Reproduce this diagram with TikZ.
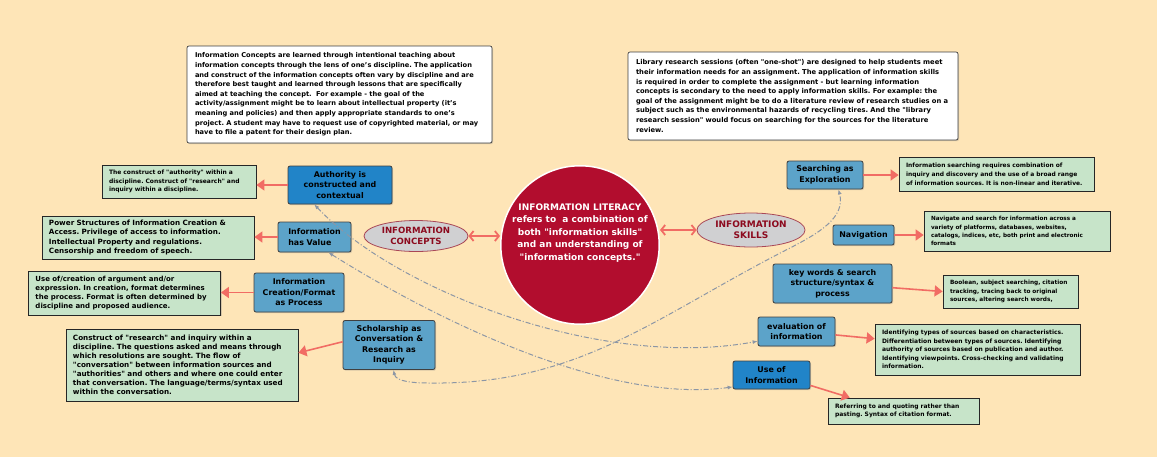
\documentclass[tikz,border=0pt]{standalone}
\usepackage{fontspec}
\setmainfont{DejaVu Sans}
\usetikzlibrary{arrows.meta,shapes.geometric,shadows}
\definecolor{bgcol}{RGB}{254,229,183}
\definecolor{hubred}{RGB}{178,13,46}
\definecolor{steel}{RGB}{92,163,201}
\definecolor{brightblue}{RGB}{33,132,200}
\definecolor{mint}{RGB}{199,228,201}
\definecolor{salmon}{RGB}{241,108,100}
\definecolor{realmgray}{RGB}{208,208,210}
\definecolor{realmred}{RGB}{140,10,30}
\definecolor{linkgray}{RGB}{140,150,165}
\newcommand{\dq}{\textquotedbl}
\frenchspacing
\hyphenpenalty=10000
\begin{document}
\begin{tikzpicture}[scale=0.35146]
\tikzstyle{note}=[draw=black!75, fill=white, rounded corners=2pt, line width=0.7pt, inner xsep=8pt, inner ysep=0pt, align=left, drop shadow={shadow xshift=1pt, shadow yshift=-1.2pt, opacity=0.3}]
\tikzstyle{infobox}=[draw=black!85, fill=mint, line width=0.8pt, inner xsep=7pt, inner ysep=0pt, align=left, drop shadow={shadow xshift=1pt, shadow yshift=-1.2pt, opacity=0.3}]
\tikzstyle{infosmall}=[infobox, font=\bfseries\fontsize{6}{8.4}\selectfont]
\tikzstyle{infolarge}=[infobox, font=\bfseries\fontsize{7.2}{9.1}\selectfont]
\tikzstyle{topic}=[draw=black!75, fill=steel, rounded corners=2pt, line width=0.8pt, inner sep=0pt, align=center, font=\bfseries\fontsize{7.9}{10.5}\selectfont, drop shadow={shadow xshift=1pt, shadow yshift=-1.2pt, opacity=0.3}]
\tikzstyle{topicbright}=[topic, fill=brightblue]
\tikzstyle{hub}=[circle, fill=hubred, draw=white, line width=1.5pt, minimum size=156pt, inner sep=0pt, text=white, align=center, font=\bfseries\fontsize{9}{12.5}\selectfont]
\tikzstyle{realm}=[ellipse, fill=realmgray, draw=realmred!75, line width=0.8pt, inner sep=0pt, text=realmred, align=center]
\tikzstyle{link}=[draw=salmon, line width=1.6pt, -{Triangle[length=8pt,width=11pt]}]
\tikzstyle{twolink}=[draw=salmon, line width=1.8pt, {Straight Barb[length=4pt,width=10pt]}-{Straight Barb[length=4pt,width=10pt]}]
\tikzstyle{crosslink}=[draw=linkgray, line width=1pt, dash pattern=on 5pt off 2pt on 1pt off 2pt, {Latex[length=5pt,width=4pt]}-{Latex[length=5pt,width=4pt]}]
\useasboundingbox (0,0) rectangle (115.7,-45.7);
\fill [bgcol] (0,0) rectangle (115.7,-45.7);

\node [note, text width=289pt, minimum height=97pt, font=\bfseries\fontsize{6.65}{9.6}\selectfont] (noteL) at (33.95,-9.45) {Information Concepts are learned through intentional teaching about\\information concepts through the lens of one's discipline. The application\\and construct of the information concepts often vary by discipline and are\\therefore best taught and learned through lessons that are specifically\\aimed at teaching the concept.\ \ For example - the goal of the\\activity/assignment might be to learn about intellectual property (it's\\meaning and policies) and then apply appropriate standards to one's\\project. A student may have to request use of copyrighted material, or may\\have to file a patent for their design plan.};
\node [note, text width=314pt, minimum height=88pt, font=\bfseries\fontsize{6.75}{9.6}\selectfont] (noteR) at (79.3,-9.6) {Library research sessions (often \dq one-shot\dq) are designed to help students meet\\their information needs for an assignment. The application of information skills\\is required in order to complete the assignment - but learning information\\concepts is secondary to the need to apply information skills. For example: the\\goal of the assignment might be to do a literature review of research studies on a\\subject such as the environmental hazards of recycling tires. And the \dq library\\research session\dq{} would focus on searching for the sources for the literature\\review.};

\node [hub] (hub) at (58,-24.5) {INFORMATION LITERACY\\refers to\ \ a combination of\\both \dq information skills\dq\\and an understanding of\\\dq information concepts.\dq\\[14pt]\mbox{}};
\node [realm, minimum width=104pt, minimum height=31pt, font=\bfseries\fontsize{8.6}{10.7}\selectfont] (concepts) at (41.6,-23.6) {INFORMATION\\CONCEPTS};
\node [realm, minimum width=108pt, minimum height=34pt, font=\bfseries\fontsize{9}{11.3}\selectfont] (skills) at (75.1,-23) {INFORMATION\\SKILLS};

\node [topicbright, minimum width=104pt, minimum height=38pt] (auth) at (34,-18.5) {Authority is\\constructed and\\contextual};
\node [topic, align=left, minimum width=73pt, minimum height=30pt] (value) at (31.45,-23.7) {Information\\has Value};
\node [topic, minimum width=90pt, minimum height=39pt] (creat) at (29.9,-29.25) {Information\\Creation/Format\\as Process};
\node [topic, minimum width=92pt, minimum height=49pt] (schol) at (38.9,-34.5) {Scholarship as\\Conversation \&\\Research as\\Inquiry};

\node [infosmall, text width=140pt, minimum height=33pt] (grAuth) at (17.9,-18.15) {The construct of \dq authority\dq{} within a\\discipline. Construct of \dq research\dq{} and\\inquiry within a discipline.};
\node [infolarge, text width=198pt, minimum height=43pt] (grValue) at (14.8,-23.75) {Power Structures of Information Creation \&\\Access. Privilege of access to information.\\Intellectual Property and regulations.\\Censorship and freedom of speech.};
\node [infolarge, text width=178pt, minimum height=44pt, font=\bfseries\fontsize{7}{9.1}\selectfont] (grCreat) at (12.45,-29.3) {Use of/creation of argument and/or\\expression. In creation, format determines\\the process. Format is often determined by\\discipline and proposed audience.};
\node [infolarge, text width=218pt, minimum height=72pt] (grCon) at (18.2,-36.5) {Construct of \dq research\dq{} and inquiry within a\\discipline. The questions asked and means through\\which resolutions are sought. The flow of\\\dq conversation\dq{} between information sources and\\\dq authorities\dq{} and others and where one could enter\\that conversation. The language/terms/syntax used\\within the conversation.};

\node [topic, minimum width=76pt, minimum height=28pt] (search) at (82.5,-17.5) {Searching as\\Exploration};
\node [topic, minimum width=61pt, minimum height=20pt] (nav) at (86.35,-23.5) {Navigation};
\node [topic, minimum width=119pt, minimum height=39pt] (kw) at (83.25,-28.35) {key words \& search\\structure/syntax \&\\process};
\node [topic, minimum width=77pt, minimum height=29pt] (eval) at (79.65,-33.15) {evaluation of\\information};
\node [topicbright, minimum width=77pt, minimum height=28pt] (useInfo) at (77.15,-37.5) {Use of\\Information};

\node [infosmall, text width=181pt, minimum height=34pt, font=\bfseries\fontsize{5.95}{8.8}\selectfont] (grSearch) at (99.65,-17.4) {Information searching requires combination of\\inquiry and discovery and the use of a broad range\\of information sources. It is non-linear and iterative.};
\node [infosmall, text width=172pt, minimum height=40pt, font=\bfseries\fontsize{5.7}{8.2}\selectfont] (grNav) at (101.7,-23.1) {Navigate and search for information across a\\variety of platforms, databases, websites,\\catalogs, indices, etc, both print and electronic\\formats};
\node [infosmall, text width=121pt, minimum height=33pt, font=\bfseries\fontsize{5.8}{8.4}\selectfont] (grKw) at (101.05,-29.15) {Boolean, subject searching, citation\\tracking, tracing back to original\\sources, altering search words,};
\node [infosmall, text width=191pt, minimum height=51pt] (grEval) at (97.75,-34.95) {Identifying types of sources based on characteristics.\\Differentiation between types of sources. Identifying\\authority of sources based on publication and author.\\Identifying viewpoints. Cross-checking and validating\\information.};
\node [infosmall, text width=137pt, minimum height=26pt] (grUse) at (90.35,-41.1) {Referring to and quoting rather than\\pasting. Syntax of citation format.};

\draw [twolink] (concepts.east) -- (concepts.east -| hub.west);
\draw [twolink] (skills.west -| hub.east) -- (skills.west);

\draw [link] (auth.west) -- (auth.west -| grAuth.east);
\draw [link] (value.west) -- (value.west -| grValue.east);
\draw [link] (creat.west) -- (creat.west -| grCreat.east);
\draw [link] (schol.176) -- (grCon.6);
\draw [link] (search.east) -- (search.east -| grSearch.west);
\draw [link] (nav.east) -- (nav.east -| grNav.west);
\draw [link] (kw.-4) -- (grKw.west);
\draw [link] (eval.-5) -- (grEval.174);
\draw [link] (useInfo.-15) -- (grUse.166);

\draw [crosslink] (auth.-143) .. controls (39.5,-29) and (60,-37) .. (eval.-166);
\draw [crosslink] (value.-48) .. controls (42,-31) and (60,-40.5) .. (useInfo.-163);
\draw [crosslink] (schol.-80) .. controls (39.6,-38.2) and (41.5,-38.3) .. (43,-38.3) .. controls (58,-38.5) and (65.6,-31.6) .. (79,-24.8) .. controls (81.7,-23.4) and (84.6,-21.8) .. (search.-47);
\end{tikzpicture}
\end{document}
